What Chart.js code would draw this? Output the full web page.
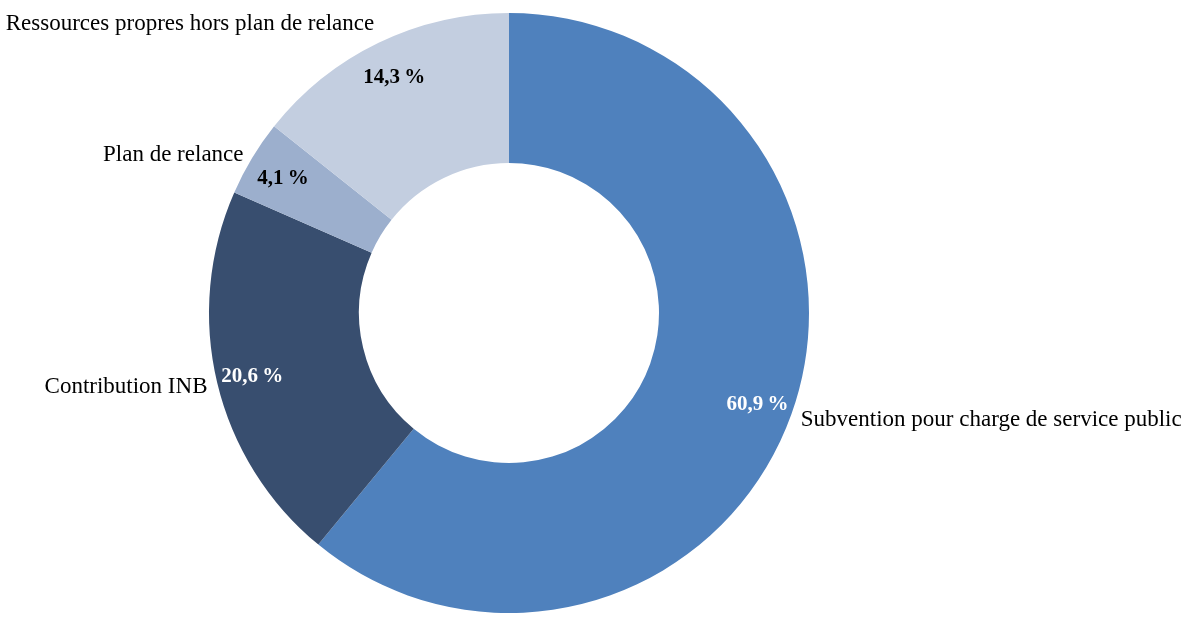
<!DOCTYPE html>
<html>
<head>
<meta charset="utf-8">
<script src="https://cdn.jsdelivr.net/npm/chart.js@4"></script>
<style>
    html, body { margin: 0; padding: 0; background: #ffffff; }
    #wrap { width: 1198px; height: 627px; }
</style>
</head>
<body>
<div id="wrap"><canvas id="resourcesChart"></canvas></div>
<script>
// Data
const categories = [
    'Subvention pour charge de service public',
    'Contribution INB',
    'Plan de relance',
    'Ressources propres hors plan de relance'
];
const shares = [60.9, 20.6, 4.1, 14.3];
const sliceColors = ['#4f81bd', '#384e6f', '#9cafcd', '#c3cee0'];
const percentColors = ['#ffffff', '#ffffff', '#000000', '#000000'];

const FONT = '"Liberation Serif", "DejaVu Serif", serif';

// Format percent the French way (thin space before %)
function formatPercent(v) {
    return v.toFixed(1).replace('.', ',') + '\u2009%';
}

// Draws the value inside each slice and the category name outside
const sliceLabels = {
    id: 'sliceLabels',
    afterDatasetsDraw(chart) {
        const ctx = chart.ctx;
        const meta = chart.getDatasetMeta(0);
        meta.data.forEach((arc, i) => {
            const mid = (arc.startAngle + arc.endAngle) / 2;
            const cos = Math.cos(mid);
            const sin = Math.sin(mid);

            // value
            const rIn = arc.innerRadius + (arc.outerRadius - arc.innerRadius) * 0.76;
            ctx.save();
            ctx.font = 'bold 21px ' + FONT;
            ctx.fillStyle = percentColors[i];
            ctx.textAlign = 'center';
            ctx.textBaseline = 'middle';
            ctx.fillText(formatPercent(shares[i]), arc.x + cos * rIn, arc.y + sin * rIn + 2);

            // category
            const rOut = arc.outerRadius + 10;
            const x = arc.x + cos * rOut;
            const y = arc.y + sin * rOut;
            ctx.font = '23px ' + FONT;
            ctx.fillStyle = '#000000';
            ctx.textAlign = cos >= 0 ? 'left' : 'right';
            ctx.textBaseline = sin < -0.8 ? 'bottom' : 'middle';
            ctx.fillText(categories[i], x, y + 2);
            ctx.restore();
        });
    }
};

const ctx = document.getElementById('resourcesChart').getContext('2d');

new Chart(ctx, {
    type: 'doughnut',
    data: {
        labels: categories,
        datasets: [{
            data: shares,
            backgroundColor: sliceColors,
            borderWidth: 0
        }]
    },
    options: {
        responsive: true,
        maintainAspectRatio: false,
        animation: false,
        cutout: '50%',
        layout: {
            padding: { left: 0, right: 180, top: 13, bottom: 14 }
        },
        plugins: {
            legend: { display: false },
            tooltip: { enabled: false }
        }
    },
    plugins: [sliceLabels]
});
</script>
</body>
</html>
